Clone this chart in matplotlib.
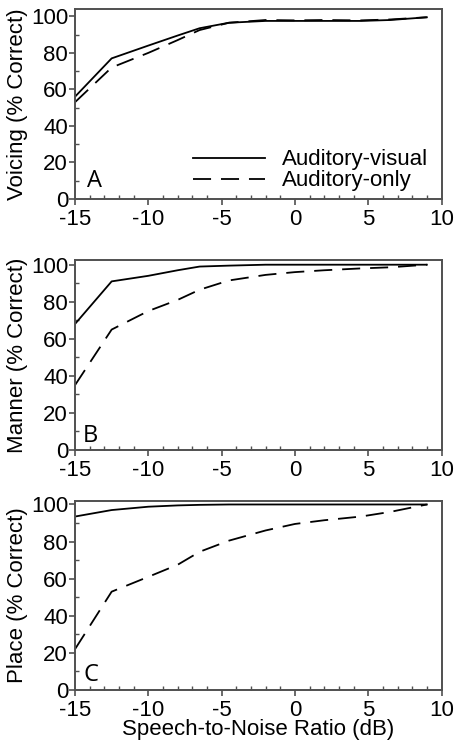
import matplotlib
matplotlib.use('Agg')
from matplotlib import pyplot as plt
from matplotlib.ticker import MultipleLocator

plt.rcParams['font.family'] = ['Liberation Sans', 'DejaVu Sans']
plt.rcParams['axes.unicode_minus'] = False

# Speech-to-noise ratio (dB) sample points
snr = [-15, -12.5, -10, -8, -6.5, -4.5, -2, 0, 2, 4.5, 6.5, 9]

# Voicing (% correct)
voicing_av = [56, 77, 84, 89.5, 93.5, 96.5, 97.5, 97.5, 97.5, 97.5, 98, 99.5]
voicing_ao = [53, 72, 80, 87, 92.5, 96.5, 98, 97.8, 98, 97.8, 98.3, 99.5]
# Manner (% correct)
manner_av = [68, 91, 94, 97, 99, 99.5, 100, 100, 100, 100, 100, 100]
manner_ao = [35, 65, 75, 81, 86.5, 91.5, 94.5, 96, 97, 98, 98.6, 100]
# Place (% correct)
place_av = [93.5, 97, 98.8, 99.5, 99.8, 100, 100, 100, 100, 100, 100, 100]
place_ao = [22, 53, 61, 67.5, 74.5, 80.5, 86, 89.5, 91.5, 93.5, 96, 100]

panels = ['A', 'B', 'C']
ylabels = ['Voicing (% Correct)', 'Manner (% Correct)', 'Place (% Correct)']
av_series = [voicing_av, manner_av, place_av]
ao_series = [voicing_ao, manner_ao, place_ao]
legend_labels = ['Auditory-visual', 'Auditory-only']
x_ticks = [-15, -10, -5, 0, 5, 10]
y_ticks = [0, 20, 40, 60, 80, 100]

fig = plt.figure(figsize=(4.57, 7.42), dpi=100)

# axes boxes [left, bottom, width, height] in figure fractions
boxes = [[0.1641, 0.7318, 0.802, 0.256],
         [0.1641, 0.3935, 0.802, 0.256],
         [0.1641, 0.0701, 0.802, 0.255]]
ytops = [104, 102.5, 102]
letter_pos = [(0.033, 0.065), (0.022, 0.04), (0.022, 0.045)]
spine_col = '#505050'

for i in range(3):
    ax = fig.add_axes(boxes[i])
    ax.plot(snr, av_series[i], color='black', lw=1.3, label=legend_labels[0])
    ax.plot(snr, ao_series[i], color='black', lw=1.3, dashes=[10, 5.5],
            label=legend_labels[1])

    ax.set_xlim(-15, 10)
    ax.set_ylim(0, ytops[i])
    ax.set_xticks(x_ticks)
    ax.set_yticks(y_ticks)
    ax.xaxis.set_minor_locator(MultipleLocator(1))
    ax.yaxis.set_minor_locator(MultipleLocator(10))
    ax.tick_params(axis='both', which='major', direction='out', length=4,
                   width=1.2, color=spine_col, labelsize=16, pad=1)
    ax.tick_params(axis='x', which='major', pad=3)
    ax.tick_params(axis='both', which='minor', direction='in', length=3,
                   width=1.0, color=spine_col)
    ax.tick_params(top=False, right=False, which='both')
    for s in ax.spines.values():
        s.set_color(spine_col)
        s.set_linewidth(1.4)

    ax.set_ylabel(ylabels[i], fontsize=16, labelpad=2)
    ax.text(letter_pos[i][0], letter_pos[i][1], panels[i], transform=ax.transAxes,
            fontsize=17, family=['Open Sans', 'DejaVu Sans'], ha='left', va='baseline')

    if i == 0:
        ax.legend(loc='lower left', bbox_to_anchor=(0.322, 0.04), frameon=False,
                  fontsize=16, handlelength=3.25, handletextpad=0.75,
                  labelspacing=0.0, borderpad=0, borderaxespad=0)
    if i == 2:
        ax.set_xlabel('Speech-to-Noise Ratio (dB)', fontsize=16, labelpad=-1)

fig.savefig('out.png', dpi=100)
